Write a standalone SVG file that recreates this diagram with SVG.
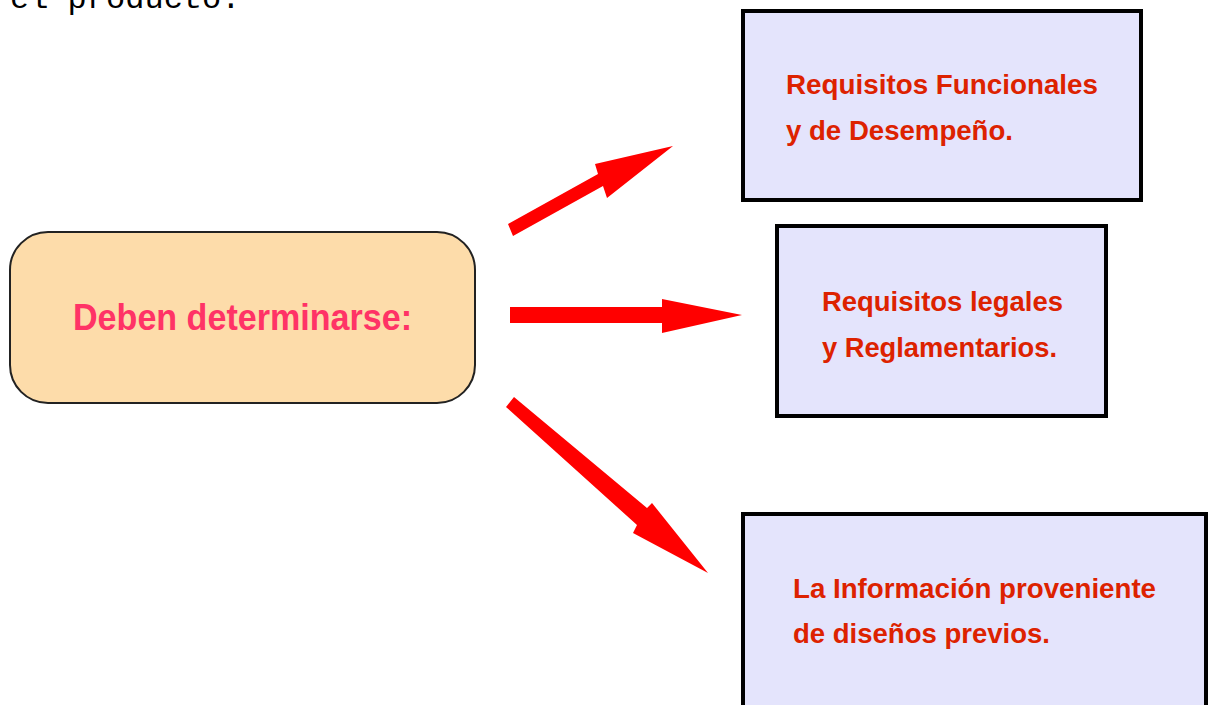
<svg xmlns="http://www.w3.org/2000/svg" width="1209" height="705" viewBox="0 0 1209 705">
<style>
.box{fill:#e4e4fc;stroke:#000;stroke-width:4}
.bt{font-family:"Liberation Sans",Arial,sans-serif;font-weight:bold;font-size:27px;fill:#dd2200}
.arrow{fill:#ff0000}
</style>
<rect width="1209" height="705" fill="#fff"/>
<text x="10" y="8" font-family="'Liberation Mono','Courier New',monospace" font-size="32" fill="#000">el producto.</text>
<g id="source">
<rect x="10" y="232" width="465" height="171" rx="38" ry="38" fill="#fddcaa" stroke="#222" stroke-width="2"/>
<text x="73" y="330" font-family="'Liberation Sans',Arial,sans-serif" font-weight="bold" font-size="37" fill="#ff3366" textLength="339" lengthAdjust="spacingAndGlyphs">Deben determinarse:</text>
</g>
<g id="connectors">
<polygon class="arrow" points="508,224 598,174 595,164 673,146 607,198 603,186 513,236"/>
<polygon class="arrow" points="510,307 662,307 662,299 742,315 662,333 662,323 510,323"/>
<polygon class="arrow" points="514,397 647,508 652,503 708,573 633,533 637,525 506,407"/>
</g>
<g id="req-funcionales">
<rect class="box" x="743" y="11" width="398" height="189"/>
<text class="bt" x="786" y="94" textLength="312" lengthAdjust="spacingAndGlyphs">Requisitos Funcionales</text>
<text class="bt" x="786" y="140" textLength="227" lengthAdjust="spacingAndGlyphs">y de Desempeño.</text>
</g>
<g id="req-legales">
<rect class="box" x="777" y="226" width="329" height="190"/>
<text class="bt" x="822" y="311" textLength="241" lengthAdjust="spacingAndGlyphs">Requisitos legales</text>
<text class="bt" x="822" y="357" textLength="235" lengthAdjust="spacingAndGlyphs">y Reglamentarios.</text>
</g>
<g id="info-disenos">
<rect class="box" x="743" y="514" width="463" height="200"/>
<text class="bt" x="793" y="598" textLength="363" lengthAdjust="spacingAndGlyphs">La Información proveniente</text>
<text class="bt" x="793" y="643" textLength="257" lengthAdjust="spacingAndGlyphs">de diseños previos.</text>
</g>
</svg>
